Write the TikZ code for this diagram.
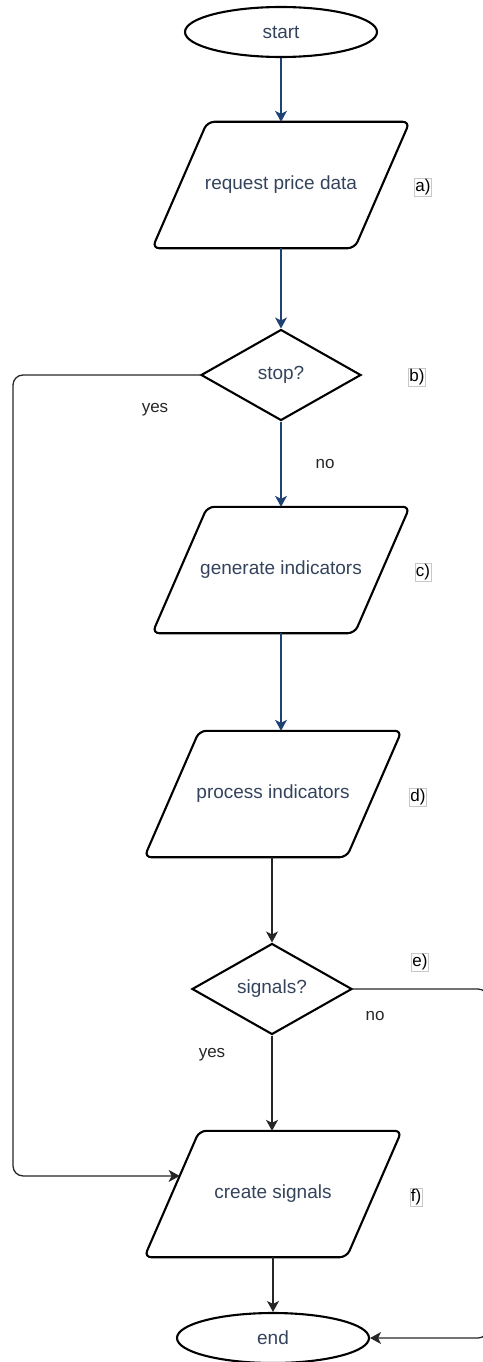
\documentclass[tikz,border=0pt]{standalone}
\usepackage{fontspec}
\setmainfont{Liberation Sans}
\usetikzlibrary{shapes.geometric,arrows.meta,calc}

\definecolor{txt}{HTML}{34435C}
\definecolor{flowblue}{HTML}{1F4274}
\definecolor{tagframe}{HTML}{C8C8C8}

% parallelogram outline around a named (invisible) node, slant in pt
\newcommand\paraoutline[1]{%
  \draw[shapeline, rounded corners=7pt]
    ([xshift=55pt]#1.north west) -- (#1.north east)
    -- ([xshift=-55pt]#1.south east) -- (#1.south west) -- cycle;}

\begin{document}
\begin{tikzpicture}[x=1pt, y=-1pt,
  shapeline/.style={line width=2.1pt, draw=black},
  txtfont/.style={font=\fontsize{19}{22}\selectfont, text=txt},
  terminal/.style={ellipse, shapeline, txtfont, minimum width=192pt, minimum height=50pt, inner sep=0pt},
  iobox/.style={rectangle, txtfont, minimum width=257pt, minimum height=126pt, inner sep=0pt},
  decision/.style={diamond, shapeline, txtfont, minimum width=160pt, minimum height=91pt, inner sep=0pt},
  tag/.style={draw=tagframe, line width=0.6pt, font=\fontsize{17}{20}\selectfont, text=black, inner sep=1pt},
  answer/.style={font=\fontsize{17}{20}\selectfont, text=black!85},
  conn/.style={line width=1.3pt, draw=black!85, -{Stealth[length=11pt, width=12pt, inset=3pt]}},
  bconn/.style={conn, draw=flowblue, -{Stealth[length=11pt, width=12pt, inset=3pt, fill=flowblue]}},
]
\useasboundingbox (0,0) rectangle (482,1362);

% main chain
\node[terminal] (start) at (281,32) {start};
\node[iobox] (a) at (281,185) {request price data};
\paraoutline{a}
\node[decision] (b) at (281,375) {stop?};
\node[iobox] (c) at (281,570) {generate indicators};
\paraoutline{c}
\node[iobox] (d) at (273,794) {process indicators};
\paraoutline{d}
\node[decision] (e) at (272,989) {signals?};
\node[iobox] (f) at (273,1194) {create signals};
\paraoutline{f}
\node[terminal] (end) at (273,1338) {end};

% step tags
\node[tag] (ta) at (423,187) {a)};
\node[tag] (tb) at (417,377) {b)};
\node[tag] (tc) at (423,572) {c)};
\node[tag] (td) at (418,797) {d)};
\node[tag] (te) at (420,962) {e)};
\node[tag] (tf) at (416,1197) {f)};

% branch answers
\node[answer] (byes) at (155,410) {yes};
\node[answer] (bno) at (325,464) {no};
\node[answer] (eno) at (375,1016) {no};
\node[answer] (eyes) at (212,1055) {yes};

% routing points for the side loops
\coordinate (loopleft) at (13,800);
\coordinate (loopright) at (488,1150);
\coordinate (fin) at ($(f.south west)!0.643!([xshift=55pt]f.north west)$);

% connectors
\draw[bconn] (start) -- (a.north);
\draw[bconn] (a.south) -- (b.north);
\draw[bconn] (b.south) -- (c.north);
\draw[bconn] (c.south) -- (c.south |- d.north);
\draw[conn] (d.south -| e.north) -- (e.north);
\draw[conn] (e.south) -- (e.south |- f.north);
\draw[conn] (f.south) -- (end.north);
\draw[conn, rounded corners=10pt] (b.west) -| (loopleft) |- (fin);
\draw[conn, rounded corners=10pt] (e.east) -| (loopright) |- (end.east);
\end{tikzpicture}
\end{document}
